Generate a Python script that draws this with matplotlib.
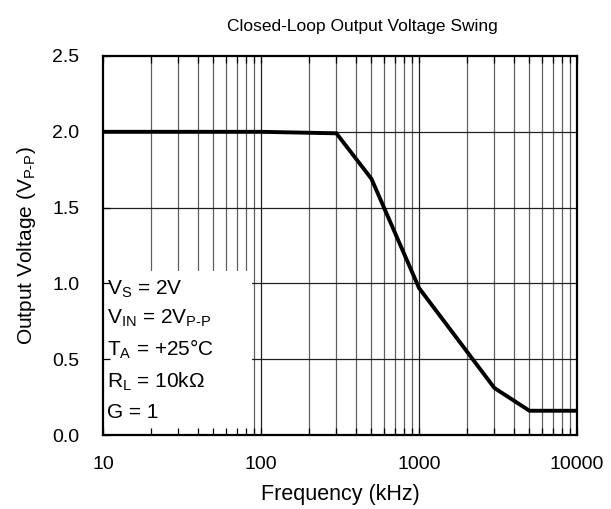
import matplotlib
matplotlib.use("Agg")
import matplotlib.pyplot as plt
from matplotlib.patches import Rectangle
from matplotlib.ticker import LogLocator, FixedLocator, NullFormatter

plt.rcParams['font.family'] = ['Liberation Sans', 'DejaVu Sans']
plt.rcParams['mathtext.fontset'] = 'custom'
plt.rcParams['mathtext.rm'] = 'Liberation Sans'
plt.rcParams['mathtext.it'] = 'Liberation Sans'

freq_khz = [10, 100, 300, 500, 1000, 3000, 5000, 10000]
vout_vpp = [2.0, 2.0, 1.99, 1.69, 0.97, 0.31, 0.16, 0.16]

x_ticks = [10, 100, 1000, 10000]
x_tick_labels = ["10", "100", "1000", "10000"]
y_ticks = [0.0, 0.5, 1.0, 1.5, 2.0, 2.5]
y_tick_labels = ["0.0", "0.5", "1.0", "1.5", "2.0", "2.5"]

conditions = [r"V$_\mathregular{S}$ = 2V",
              r"V$_\mathregular{IN}$ = 2V$_\mathregular{P\text{-}P}$",
              r"T$_\mathregular{A}$ = +25°C",
              r"R$_\mathregular{L}$ = 10kΩ",
              "G = 1"]

W, H = 611, 509
fig = plt.figure(figsize=(W/100, H/100), dpi=100)
ax = fig.add_axes([103/W, 1-435/H, (577-103)/W, (435-56)/H])

ax.set_xscale('log')
ax.set_xlim(10, 10000)
ax.set_ylim(0, 2.5)

ax.xaxis.set_major_locator(FixedLocator(x_ticks))
ax.set_xticklabels(x_tick_labels)
ax.xaxis.set_minor_locator(LogLocator(base=10, subs=range(2, 10)))
ax.xaxis.set_minor_formatter(NullFormatter())
ax.set_yticks(y_ticks)
ax.set_yticklabels(y_tick_labels)

# grid lines (drawn beneath the condition box)
for xv in ax.xaxis.get_minorticklocs():
    if 10 < xv < 10000:
        ax.axvline(xv, color='#606060', linewidth=0.9, zorder=1)
for xv in x_ticks[1:-1]:
    ax.axvline(xv, color='#202020', linewidth=0.9, zorder=1)
for yv in y_ticks[1:-1]:
    ax.axhline(yv, color='#202020', linewidth=0.9, zorder=1)

ax.set_axisbelow(False)
ax.tick_params(axis='both', which='both', direction='in', top=True, right=False,
               labelsize=14, colors='black')
ax.tick_params(axis='x', which='major', length=5, width=0.9, pad=15)
ax.tick_params(axis='y', which='major', length=5, width=0.9, pad=17)
ax.tick_params(axis='x', which='minor', length=5, width=0.9)

for s in ax.spines.values():
    s.set_linewidth(1.6)
    s.set_zorder(5)

ax.plot(freq_khz, vout_vpp, color='black', linewidth=2.8, zorder=4, solid_joinstyle='miter')

rect = Rectangle((0, 0), (252-103)/474, (435-271)/379, transform=ax.transAxes,
                 facecolor='white', edgecolor='none', zorder=2)
ax.add_patch(rect)

ys = [287, 316, 347, 379, 411]
for t, yp in zip(conditions, ys):
    fig.text(107/W, 1-yp/H, t, fontsize=15, va='center_baseline', ha='left', zorder=6)

fig.text(362/W, 1-27/H, "Closed-Loop Output Voltage Swing", fontsize=12.5,
         ha='center', va='center')
ax.set_xlabel("Frequency (kHz)", fontsize=15.5, labelpad=8)
ax.set_ylabel(r"Output Voltage (V$_\mathregular{P\text{-}P}$)", fontsize=15, labelpad=10)

fig.savefig("out.png", dpi=100)
